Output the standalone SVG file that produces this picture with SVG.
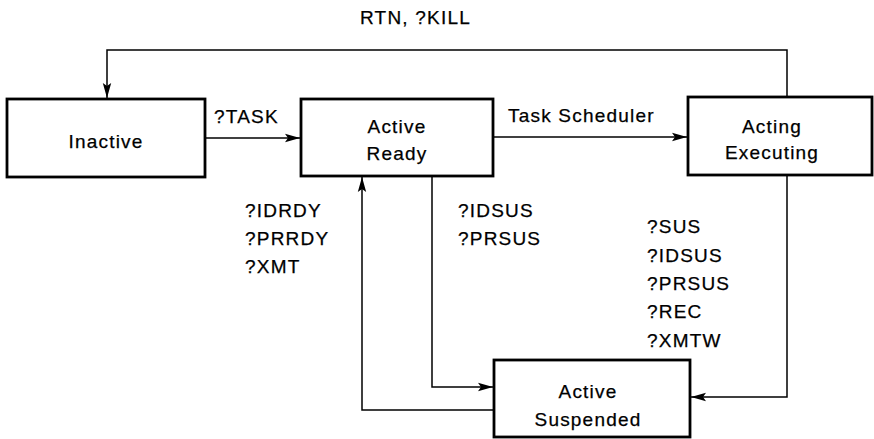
<svg xmlns="http://www.w3.org/2000/svg" width="874" height="439" viewBox="0 0 874 439">
<style>
.box{fill:#fff;stroke:#000;stroke-width:2.8}
.ln{fill:none;stroke:#000;stroke-width:1.5}
text{font-family:"Liberation Sans",Arial,sans-serif;font-size:19px;letter-spacing:1.2px;fill:#000;stroke:#000;stroke-width:0.25}
.c{text-anchor:middle}
</style>
<defs>
<marker id="ah" markerUnits="userSpaceOnUse" markerWidth="16" markerHeight="10" refX="15" refY="5" orient="auto">
<path d="M0,0.8 L15,5 L0,9.2 L3,5 Z" fill="#000"/>
</marker>
</defs>
<g id="connectors">
<polyline class="ln" points="787,97 787,50 107,50 107,98" marker-end="url(#ah)"/>
<line class="ln" x1="205" y1="138" x2="300" y2="138" marker-end="url(#ah)"/>
<line class="ln" x1="493" y1="137" x2="687" y2="137" marker-end="url(#ah)"/>
<polyline class="ln" points="432,176 432,387 493,387" marker-end="url(#ah)"/>
<polyline class="ln" points="494,410 362,410 362,177" marker-end="url(#ah)"/>
<polyline class="ln" points="787,175 787,397 691,397" marker-end="url(#ah)"/>
<text x="360" y="24">RTN, ?KILL</text>
<text x="214" y="123">?TASK</text>
<text x="508" y="122">Task Scheduler</text>
<text x="245" y="217">?IDRDY</text>
<text x="245" y="245">?PRRDY</text>
<text x="245" y="273">?XMT</text>
<text x="458" y="217">?IDSUS</text>
<text x="458" y="245">?PRSUS</text>
<text x="647" y="233">?SUS</text>
<text x="647" y="262">?IDSUS</text>
<text x="647" y="290">?PRSUS</text>
<text x="647" y="318">?REC</text>
<text x="647" y="347">?XMTW</text>
</g>
<g id="inactive">
<rect class="box" x="7" y="99" width="198" height="78"/>
<text class="c" x="106" y="148">Inactive</text>
</g>
<g id="active-ready">
<rect class="box" x="301" y="99" width="192" height="77"/>
<text class="c" x="397" y="133">Active</text>
<text class="c" x="397" y="160">Ready</text>
</g>
<g id="acting-executing">
<rect class="box" x="688" y="97" width="184" height="78"/>
<text class="c" x="772" y="133">Acting</text>
<text class="c" x="772" y="159">Executing</text>
</g>
<g id="active-suspended">
<rect class="box" x="494" y="360" width="196" height="77"/>
<text class="c" x="588" y="398">Active</text>
<text class="c" x="588" y="426">Suspended</text>
</g>
</svg>
